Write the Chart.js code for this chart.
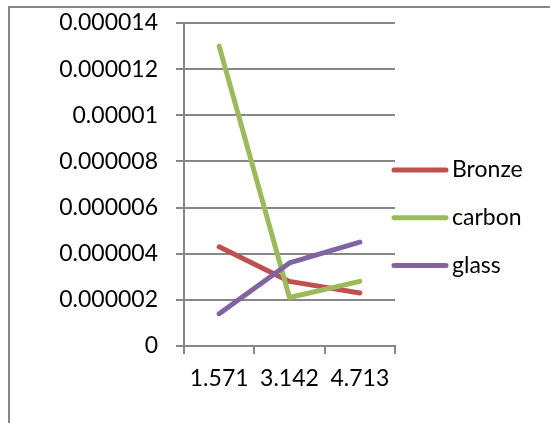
<!DOCTYPE html>
<html>
<head>
<meta charset="utf-8">
<script src="https://cdn.jsdelivr.net/npm/chart.js@4/dist/chart.umd.min.js"></script>
<style>
  html, body { margin: 0; padding: 0; background: #fff; }
  #wrap { position: relative; width: 550px; height: 423px; overflow: hidden; }
  #frame { position: absolute; left: 8px; top: 6px; width: 700px; height: 600px;
           border-left: 2px solid #878787; border-top: 2px solid #878787; }
  canvas { position: absolute; left: 0; top: 0; }
</style>
</head>
<body>
<div id="wrap">
  <div id="frame"></div>
  <canvas id="c" width="550" height="423"></canvas>
</div>
<script>
// Angle values along the horizontal axis
const categories = ['1.571', '3.142', '4.713'];

// Measured values per material
const bronze = [0.0000043, 0.0000028, 0.0000023];
const carbon = [0.000013, 0.0000021, 0.0000028];
const glass  = [0.0000014, 0.0000036, 0.0000045];

// Vertical axis labels, bottom to top
const yTickLabels = ['0', '0.000002', '0.000004', '0.000006', '0.000008', '0.00001', '0.000012', '0.000014'];

const seriesNames = ['Bronze', 'carbon', 'glass'];
const seriesColors = ['#C0504D', '#9BBB59', '#8064A2'];

const FONT = 'Lato, "Open Sans", sans-serif';
const GRID = '#878787';

// Legend drawn beside the plot: a short line sample and the series name
const sideLegend = {
  id: 'sideLegend',
  afterDraw(chart) {
    const ctx = chart.ctx;
    const x0 = 394, x1 = 446, tx = 452;
    const y0 = 170, gap = 47.8;
    ctx.save();
    chart.data.datasets.forEach((ds, i) => {
      const y = y0 + i * gap;
      ctx.strokeStyle = ds.borderColor;
      ctx.lineWidth = ds.borderWidth;
      ctx.lineCap = 'round';
      ctx.beginPath();
      ctx.moveTo(x0, y);
      ctx.lineTo(x1, y);
      ctx.stroke();
      ctx.fillStyle = '#000';
      ctx.font = '23px ' + FONT;
      ctx.textBaseline = 'middle';
      ctx.textAlign = 'left';
      ctx.fillText(ds.label, tx, y);
    });
    ctx.restore();
  }
};

const datasets = [bronze, carbon, glass].map((values, i) => ({
  label: seriesNames[i],
  data: values,
  borderColor: seriesColors[i],
  backgroundColor: seriesColors[i],
  borderWidth: 5,
  borderCapStyle: 'round',
  borderJoinStyle: 'round',
  pointRadius: 0,
  pointHoverRadius: 0,
  tension: 0,
  fill: false,
  order: 2 - i
}));

new Chart(document.getElementById('c'), {
  type: 'line',
  data: { labels: categories, datasets },
  options: {
    responsive: false,
    animation: false,
    events: [],
    layout: { padding: { left: 0, right: 155, top: 23, bottom: 0 } },
    plugins: {
      legend: { display: false },
      tooltip: { enabled: false },
      title: { display: false }
    },
    scales: {
      x: {
        offset: true,
        grid: {
          offset: true,
          drawOnChartArea: false,
          drawTicks: true,
          tickLength: 8,
          color: GRID,
          lineWidth: 2
        },
        border: { display: true, color: GRID, width: 2 },
        ticks: {
          color: '#000',
          font: { family: FONT, size: 23 },
          padding: 11,
          maxRotation: 0,
          autoSkip: false
        },
        afterFit(scale) {
          scale.height = 77;
          scale.paddingLeft = 0;
          scale.paddingRight = 0;
        }
      },
      y: {
        min: 0,
        max: 0.000014,
        grid: {
          drawOnChartArea: true,
          drawTicks: true,
          tickLength: 8,
          color: GRID,
          lineWidth: 2
        },
        border: { display: true, color: GRID, width: 2 },
        ticks: {
          stepSize: 0.000002,
          color: '#000',
          font: { family: FONT, size: 23 },
          padding: 18,
          callback: (value, index) => yTickLabels[index]
        },
        afterFit(scale) {
          scale.width = 184;
          scale.paddingTop = 0;
          scale.paddingBottom = 0;
        }
      }
    }
  },
  plugins: [sideLegend]
});
</script>
</body>
</html>
